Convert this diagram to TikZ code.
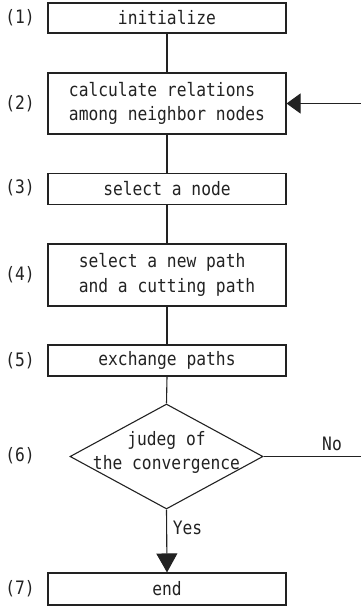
\documentclass[tikz,border=0pt]{standalone}
\usepackage{fontspec}
\setmainfont{DejaVu Sans Mono}[FakeStretch=0.88]
\usetikzlibrary{arrows.meta,shapes.geometric}
\definecolor{ink}{HTML}{222222}
\begin{document}
\begin{tikzpicture}[x=1pt,y=-1pt,
  box/.style={draw=ink,line width=1.1pt,minimum width=238pt,inner sep=0pt,align=left,
    font=\fontsize{18.5}{24.5}\selectfont,text=ink},
  lbl/.style={font=\fontsize{18.5}{24}\selectfont,text=ink,inner sep=0pt},
  conn/.style={draw=ink,line width=1.1pt}]
\useasboundingbox (0,0) rectangle (360,607);
\node[box,minimum height=30pt] (b1) at (167,18) {initialize};
\node[box,minimum height=61pt] (b2) at (167,103.5) {calculate relations\\among neighbor nodes};
\node[box,minimum height=31pt] (b3) at (167,189) {select a node};
\node[box,minimum height=62pt] (b4) at (167,275) {select a new path\\and a cutting path};
\node[box,minimum height=31pt] (b5) at (167,360.5) {exchange paths};
\node[draw=ink,line width=1.1pt,diamond,minimum width=193pt,minimum height=105pt,inner sep=0pt,aspect=1.84] (d) at (166.5,456.5) {};
\node[lbl,align=center,font=\fontsize{18.5}{24}\selectfont] (dt) at (166.5,452) {judeg of\\the convergence};
\node[box,minimum height=32pt] (b7) at (167,589) {end};
\node[lbl] (l1) at (20,18) {(1)};
\node[lbl] (l2) at (20,103.5) {(2)};
\node[lbl] (l3) at (20,188) {(3)};
\node[lbl] (l4) at (20,275) {(4)};
\node[lbl] (l5) at (20,361) {(5)};
\node[lbl] (l6) at (20,456) {(6)};
\node[lbl] (l7) at (20,589) {(7)};
\node[lbl] (no) at (332,444) {No};
\node[lbl] (yes) at (187.5,528) {Yes};
\coordinate (rlow) at (363,456.5);
\coordinate (rhigh) at (363,103.5);
\path[conn] (b1.south) -- (b2.north);
\path[conn] (b2.south) -- (b3.north);
\path[conn] (b3.south) -- (b4.north);
\path[conn] (b4.south) -- (b5.north);
\path[conn] (b5.south) -- (d.north);
\path[conn,-{Triangle[length=19pt,width=21pt]}] (d.south) -- (b7.north);
\path[conn,-{Triangle[length=14pt,width=20pt]}] (d.east) -- (rlow) -- (rhigh) -- (b2.east);
\end{tikzpicture}
\end{document}
